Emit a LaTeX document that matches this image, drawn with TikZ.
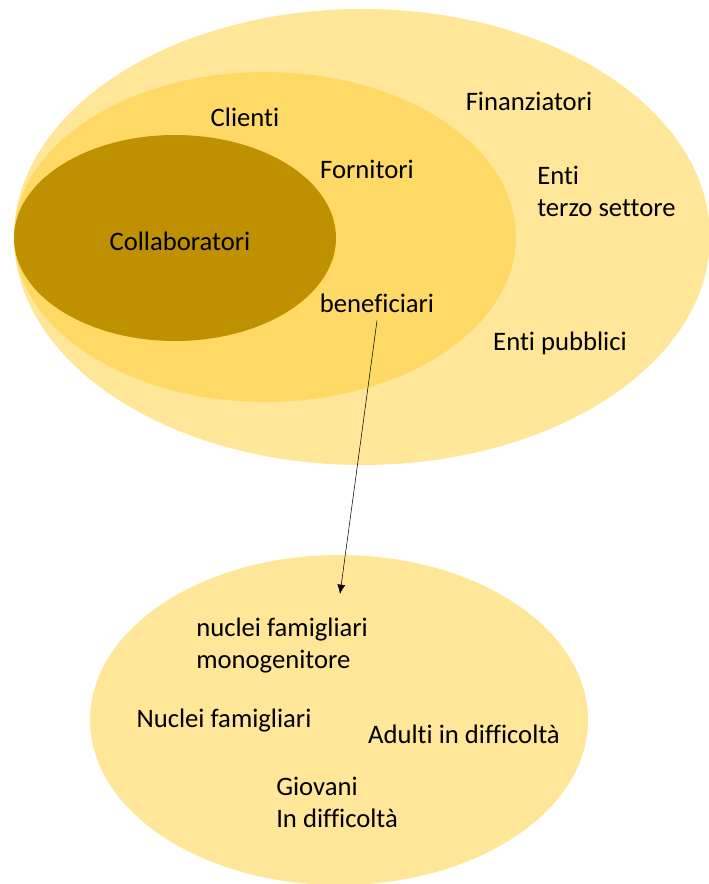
\documentclass[tikz,border=0pt]{standalone}
\usepackage{fontspec}
\setmainfont{Carlito}[Ligatures=NoCommon]
\usepackage{tikz}
\usetikzlibrary{arrows.meta}
\definecolor{ringOuter}{HTML}{FFE699}
\definecolor{ringMid}{HTML}{FFD966}
\definecolor{ringCore}{HTML}{BF9000}
\tikzset{
 lbl/.style = {inner sep=0pt, font=\fontsize{20}{24}\selectfont},
 lblL/.style = {lbl, align=left, anchor=north west}
}
\begin{document}
\begin{tikzpicture}[x=0.75pt, y=-0.75pt]
    \useasboundingbox (0,0) rectangle (709,884);

    % cerchi degli stakeholder
    \fill[ringOuter] (362,237) ellipse (348 and 228);
    \fill[ringMid] (265,237) ellipse (251 and 165);
    \fill[ringCore] (175,238) ellipse (161 and 103);
    \fill[ringOuter] (339,720) ellipse (249 and 165);

    \node[lbl] (clienti) at (245,117) {Clienti};
    \node[lbl] (fornitori) at (367,169) {Fornitori};
    \node[lbl] (collab) at (180,241) {Collaboratori};
    \node[lbl] (benef) at (377,303) {beneficiari};
    \node[lbl] (finanz) at (529,101) {Finanziatori};
    \node[lblL] (terzo) at (537,166) {Enti\\terzo settore};
    \node[lbl] (pubblici) at (560,343) {Enti pubblici};

    % dettaglio beneficiari
    \node[lblL] (monogen) at (196,618) {nuclei famigliari\\monogenitore};
    \node[lbl] (nuclei) at (224,721) {Nuclei famigliari};
    \node[lbl] (adulti) at (464,734) {Adulti in difficolt\`a};
    \node[lblL] (giovani) at (276,777) {Giovani\\In difficolt\`a};

    \coordinate (benefEnd) at (340,594);
    \draw[-{Latex[length=7pt,width=6pt]}, thin] ([yshift=-6pt]benef.south) -- (benefEnd);
\end{tikzpicture}
\end{document}
